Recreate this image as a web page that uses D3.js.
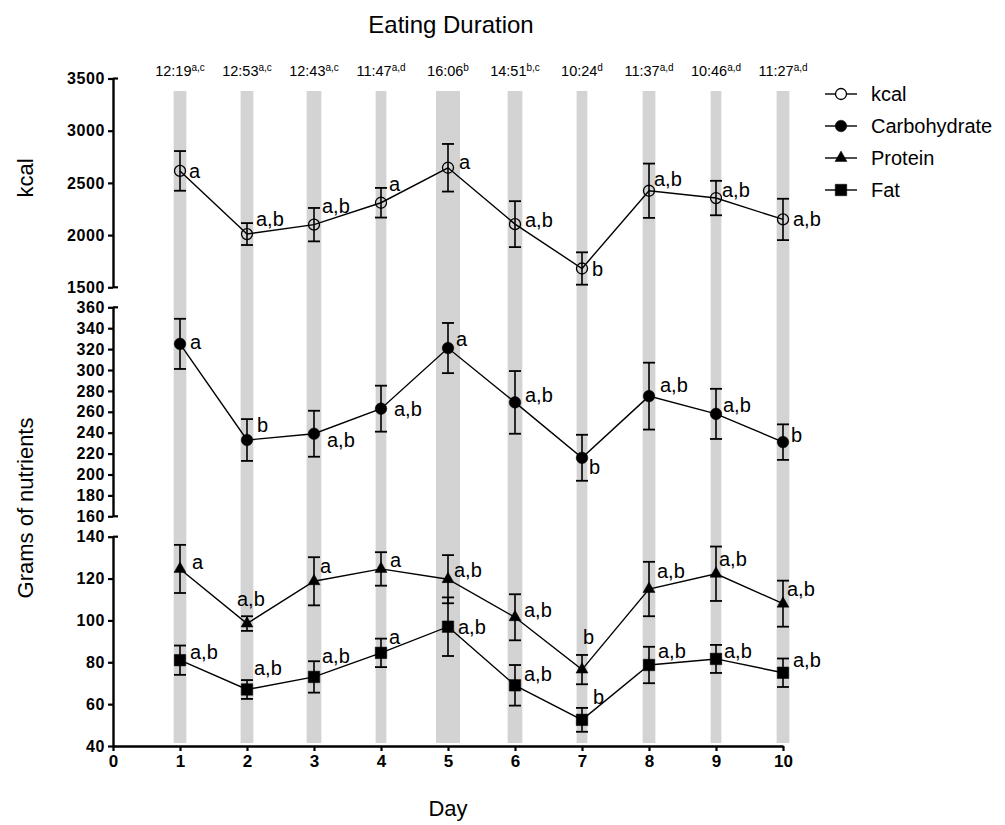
<!DOCTYPE html>
<html>
<head>
<meta charset="utf-8">
<script src="https://cdn.jsdelivr.net/npm/d3@7"></script>
<style>
  body { margin: 0; background: #fff; }
  svg text { font-family: Arial, "Liberation Sans", sans-serif; fill: #000; }
</style>
</head>
<body>
<div id="chart"></div>
<script>
// data
var days = [1, 2, 3, 4, 5, 6, 7, 8, 9, 10];
var durations = ["12:19", "12:53", "12:43", "11:47", "16:06", "14:51", "10:24", "11:37", "10:46", "11:27"];
var durationSup = ["a,c", "a,c", "a,c", "a,d", "b", "b,c", "d", "a,d", "a,d", "a,d"];
var bandWidthDays = [0.19, 0.19, 0.22, 0.16, 0.36, 0.22, 0.16, 0.19, 0.16, 0.19];

var kcalMean = [2615, 2010, 2100, 2310, 2645, 2105, 1680, 2425, 2355, 2150];
var kcalSem = [190, 105, 160, 142, 228, 220, 155, 260, 165, 198];
var kcalLetters = ["a", "a,b", "a,b", "a", "a", "a,b", "b", "a,b", "a,b", "a,b"];

var carbMean = [325, 233, 239, 263, 321, 269, 216, 275, 258, 231];
var carbSem = [24, 20, 22, 22, 24, 30, 22, 32, 24, 17];
var carbLetters = ["a", "b", "a,b", "a,b", "a", "a,b", "b", "a,b", "a,b", "b"];

var proteinMean = [124.6, 98.5, 118.7, 124.6, 119.7, 101.5, 76.5, 115, 122.3, 108];
var proteinSem = [11.5, 3.5, 11.5, 8, 11.5, 11, 7, 13, 13, 11];
var proteinLetters = ["a", "a,b", "a", "a", "a,b", "a,b", "b", "a,b", "a,b", "a,b"];

var fatMean = [81, 67, 73, 84.5, 97, 69, 52.5, 78.7, 81.6, 75];
var fatSem = [7, 4.5, 7.5, 6.8, 14, 9.7, 5.7, 8.7, 6.7, 6.8];
var fatLetters = ["a,b", "a,b", "a,b", "a", "a,b", "a,b", "b", "a,b", "a,b", "a,b"];

var kcalTicks = [1500, 2000, 2500, 3000, 3500];
var carbTicks = [160, 180, 200, 220, 240, 260, 280, 300, 320, 340, 360];
var gramTicks = [40, 60, 80, 100, 120, 140];
var dayTicks = [0, 1, 2, 3, 4, 5, 6, 7, 8, 9, 10];

// where each significance letter sits next to its point (px)
var kcalLabelPos = [[9, 0], [9, -15], [8, -19], [8, -19], [11, -6], [10, -4], [10, 0], [5, -12], [6, -8], [10, 0]];
var carbLabelPos = [[10, -2], [10, -15], [13, 6], [13, 0], [8, -9], [10, -7], [7, 9], [11, -11], [7, -9], [8, -7]];
var proteinLabelPos = [[12, -7], [-10, -25], [6, -15], [9, -9], [6, -9], [9, -7], [1, -33], [8, -18], [3, -15], [4, -15]];
var fatLabelPos = [[10, -8], [7, -21], [8, -21], [8, -16], [10, 0], [9, -11], [11, -23], [9, -14], [8, -8], [10, -13]];

var svgWidth = 1005, svgHeight = 825;
var svg = d3.select("#chart").append("svg")
  .attr("width", svgWidth)
  .attr("height", svgHeight);

var xScale = d3.scaleLinear().domain([0, 10]).range([113, 783]);
var yKcal = d3.scaleLinear().domain([1500, 3500]).range([287.3, 78.5]);
var yCarb = d3.scaleLinear().domain([160, 360]).range([516.3, 307.3]);
var yGram = d3.scaleLinear().domain([40, 140]).range([746, 536.7]);

// grey bands
svg.append("g").selectAll("rect")
  .data(days)
  .enter().append("rect")
  .attr("x", function (d, i) { return xScale(d - bandWidthDays[i] / 2); })
  .attr("width", function (d, i) { return xScale(bandWidthDays[i]) - xScale(0); })
  .attr("y", 91)
  .attr("height", 652)
  .attr("fill", "#d3d3d3");

// eating duration labels
svg.append("text")
  .attr("x", 451).attr("y", 33)
  .attr("text-anchor", "middle")
  .attr("font-size", "24px")
  .text("Eating Duration");

var dur = svg.append("g").selectAll("text")
  .data(days)
  .enter().append("text")
  .attr("x", function (d) { return xScale(d); })
  .attr("y", 76)
  .attr("text-anchor", "middle")
  .attr("font-size", "14.5px");
dur.append("tspan").text(function (d, i) { return durations[i]; });
dur.append("tspan")
  .attr("font-size", "10px")
  .attr("dy", -5)
  .text(function (d, i) { return durationSup[i]; });

// y axes
function yAxis(scale, ticks, capTop, capBottom) {
  var g = svg.append("g")
    .attr("class", "axis")
    .attr("transform", "translate(113,0)")
    .call(d3.axisLeft(scale).tickValues(ticks).tickFormat(d3.format("d"))
      .tickSize(5).tickSizeOuter(0).tickPadding(3));
  g.select(".domain").attr("stroke-width", 2.4);
  g.selectAll(".tick line").attr("stroke-width", 2.2);
  g.selectAll(".tick text")
    .attr("font-size", "16px")
    .attr("font-weight", "bold")
    .attr("letter-spacing", "0.6px")
    .attr("font-family", "Arial, 'Liberation Sans', sans-serif");
  var caps = [];
  if (capTop) caps.push(scale.domain()[1]);
  if (capBottom) caps.push(scale.domain()[0]);
  g.selectAll(".cap")
    .data(caps)
    .enter().append("line")
    .attr("x1", 0).attr("x2", 5)
    .attr("y1", function (d) { return scale(d); })
    .attr("y2", function (d) { return scale(d); })
    .attr("stroke", "#000")
    .attr("stroke-width", 2.2);
}
yAxis(yKcal, kcalTicks, true, true);
yAxis(yCarb, carbTicks, true, true);
yAxis(yGram, gramTicks, true, false);

// x axis
var gx = svg.append("g")
  .attr("transform", "translate(0,746)")
  .call(d3.axisBottom(xScale).tickValues(dayTicks).tickFormat(d3.format("d"))
    .tickSize(5).tickSizeOuter(0).tickPadding(4));
gx.select(".domain").attr("stroke-width", 2.4);
gx.selectAll(".tick line").attr("stroke-width", 2.2);
gx.selectAll(".tick text")
  .attr("font-size", "17px")
  .attr("font-weight", "bold")
  .attr("font-family", "Arial, 'Liberation Sans', sans-serif");

// axis titles
svg.append("text")
  .attr("transform", "translate(33,178) rotate(-90)")
  .attr("text-anchor", "middle")
  .attr("font-size", "22px")
  .text("kcal");
svg.append("text")
  .attr("transform", "translate(33,508) rotate(-90)")
  .attr("text-anchor", "middle")
  .attr("font-size", "22px")
  .text("Grams of nutrients");
svg.append("text")
  .attr("x", 448).attr("y", 816)
  .attr("text-anchor", "middle")
  .attr("font-size", "22px")
  .text("Day");

// series
var series = [
  { name: "kcal", mean: kcalMean, sem: kcalSem, letters: kcalLetters, pos: kcalLabelPos, y: yKcal, symbol: d3.symbolCircle, size: 95, fill: "none" },
  { name: "Carbohydrate", mean: carbMean, sem: carbSem, letters: carbLetters, pos: carbLabelPos, y: yCarb, symbol: d3.symbolCircle, size: 106, fill: "#000" },
  { name: "Protein", mean: proteinMean, sem: proteinSem, letters: proteinLetters, pos: proteinLabelPos, y: yGram, symbol: d3.symbolTriangle, size: 62, fill: "#000" },
  { name: "Fat", mean: fatMean, sem: fatSem, letters: fatLetters, pos: fatLabelPos, y: yGram, symbol: d3.symbolSquare, size: 132, fill: "#000" }
];

series.forEach(function (s) {
  var g = svg.append("g");
  var line = d3.line()
    .x(function (d) { return xScale(d); })
    .y(function (d, i) { return s.y(s.mean[i]); });

  g.append("path")
    .attr("d", line(days))
    .attr("fill", "none")
    .attr("stroke", "#000")
    .attr("stroke-width", 1.4);

  // error bars
  var eb = g.selectAll(".eb")
    .data(days)
    .enter().append("g");
  eb.append("line")
    .attr("x1", function (d) { return xScale(d); })
    .attr("x2", function (d) { return xScale(d); })
    .attr("y1", function (d, i) { return s.y(s.mean[i] - s.sem[i]); })
    .attr("y2", function (d, i) { return s.y(s.mean[i] + s.sem[i]); })
    .attr("stroke", "#000").attr("stroke-width", 1.6);
  [-1, 1].forEach(function (sign) {
    eb.append("line")
      .attr("x1", function (d) { return xScale(d) - 6; })
      .attr("x2", function (d) { return xScale(d) + 6; })
      .attr("y1", function (d, i) { return s.y(s.mean[i] + sign * s.sem[i]); })
      .attr("y2", function (d, i) { return s.y(s.mean[i] + sign * s.sem[i]); })
      .attr("stroke", "#000").attr("stroke-width", 1.8);
  });

  g.selectAll(".pt")
    .data(days)
    .enter().append("path")
    .attr("d", d3.symbol().type(s.symbol).size(s.size))
    .attr("transform", function (d, i) { return "translate(" + xScale(d) + "," + s.y(s.mean[i]) + ")"; })
    .attr("fill", s.fill)
    .attr("stroke", "#000")
    .attr("stroke-width", s.fill === "none" ? 1.3 : 0.5);

  g.selectAll(".lbl")
    .data(days)
    .enter().append("text")
    .attr("x", function (d, i) { return xScale(d) + s.pos[i][0]; })
    .attr("y", function (d, i) { return s.y(s.mean[i]) + s.pos[i][1]; })
    .attr("dominant-baseline", "central")
    .attr("font-size", "20px")
    .text(function (d, i) { return s.letters[i]; });
});

// legend
var legend = svg.append("g").selectAll("g")
  .data(series)
  .enter().append("g")
  .attr("transform", function (d, i) { return "translate(841," + (94 + i * 32) + ")"; });
legend.append("line")
  .attr("x1", -16).attr("x2", 16)
  .attr("stroke", "#000").attr("stroke-width", 1.4);
legend.append("path")
  .attr("d", function (d) { return d3.symbol().type(d.symbol).size(d.size)(); })
  .attr("fill", function (d) { return d.fill === "none" ? "#fff" : d.fill; })
  .attr("stroke", "#000")
  .attr("stroke-width", function (d) { return d.fill === "none" ? 1.3 : 0.5; });
legend.append("text")
  .attr("x", 30)
  .attr("dominant-baseline", "central")
  .attr("font-size", "20px")
  .text(function (d) { return d.name; });
</script>
</body>
</html>
